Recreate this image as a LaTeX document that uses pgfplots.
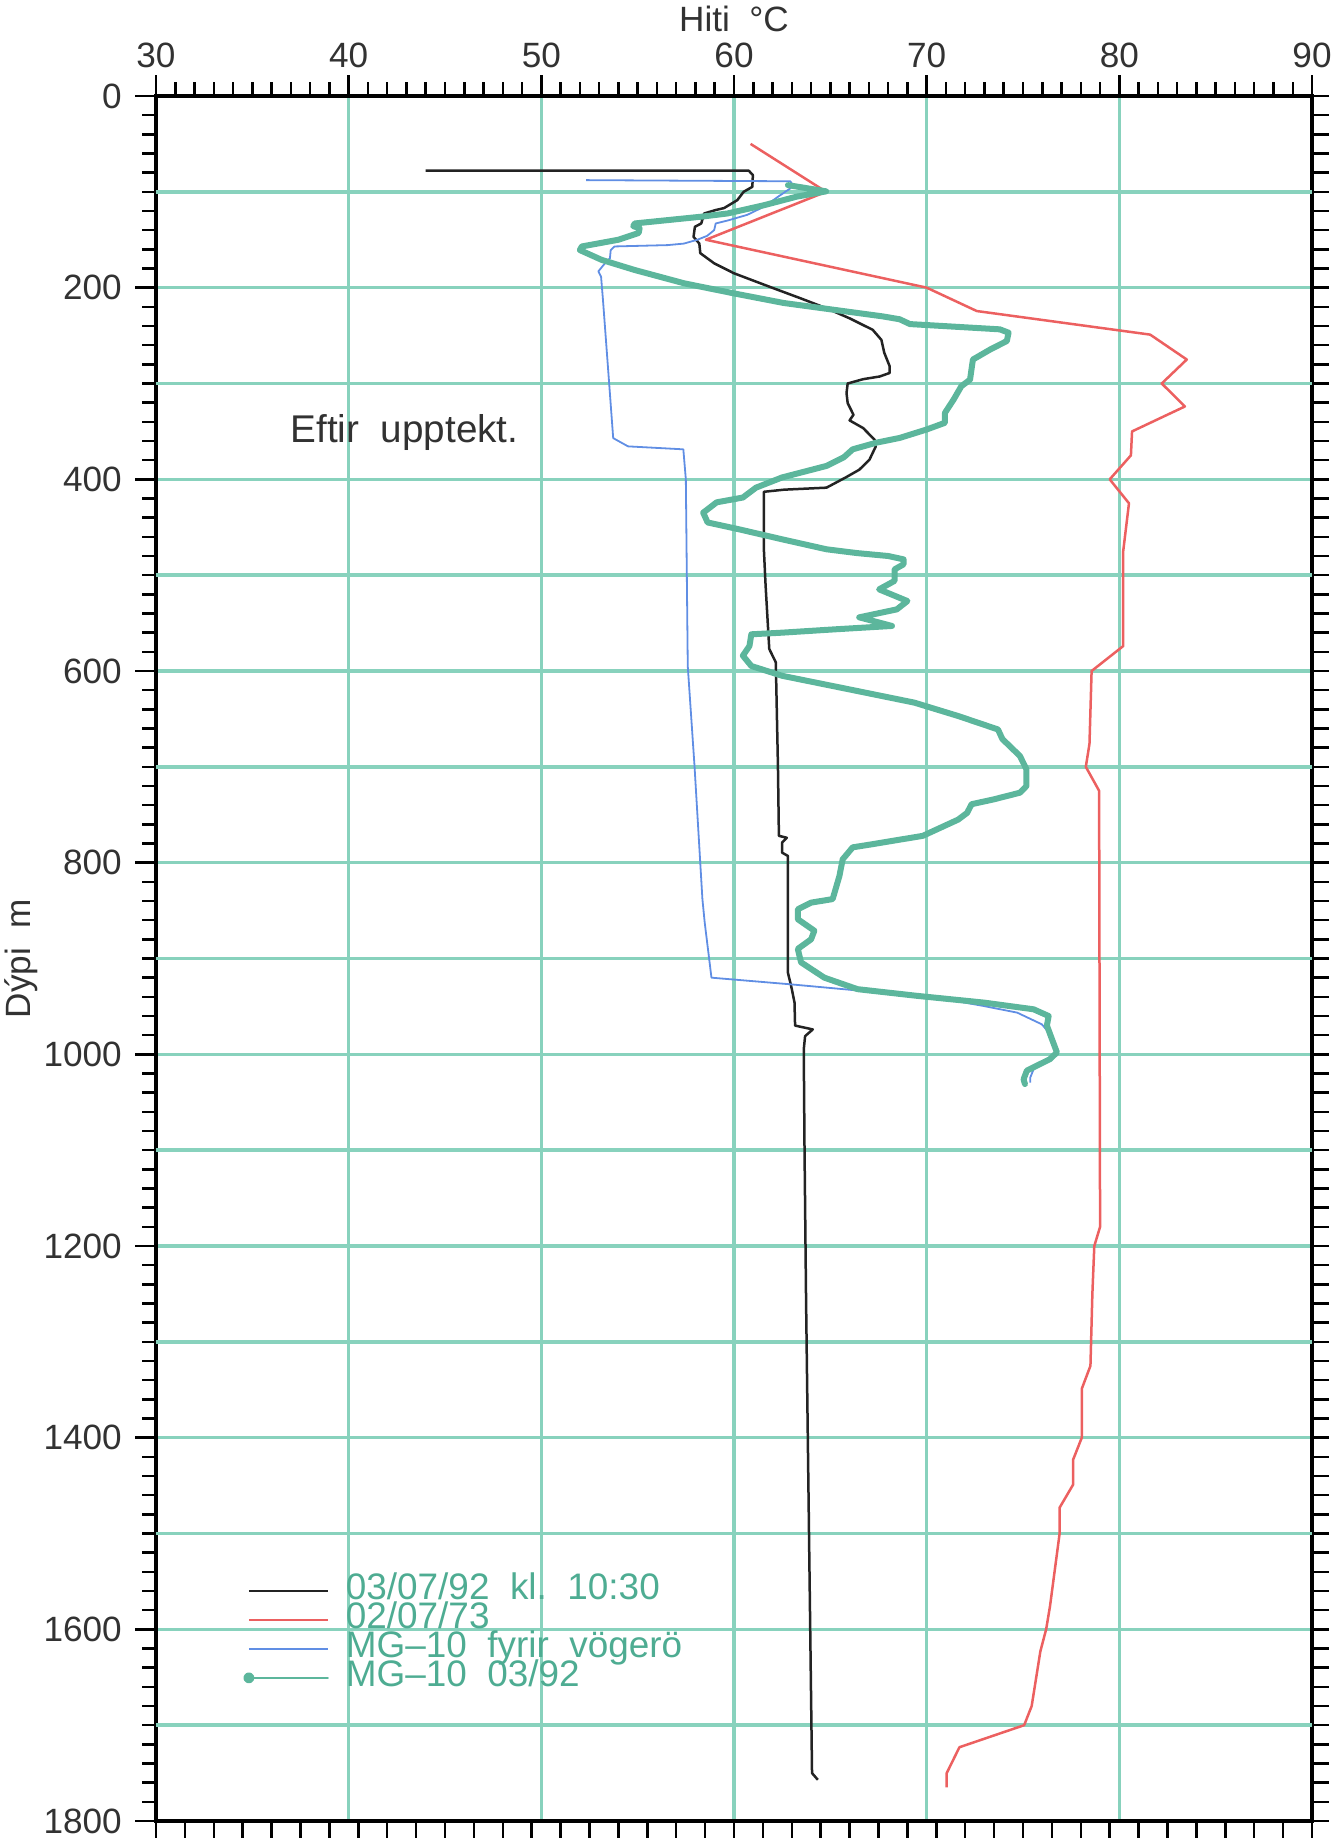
\documentclass[border=0pt]{standalone}
\usepackage{fontspec}
\setmainfont{Liberation Sans}
\usepackage{pgfplots}
\pgfplotsset{compat=1.18}

\definecolor{gridteal}{RGB}{136,210,189}
\definecolor{mgteal}{RGB}{92,182,156}
\definecolor{legteal}{RGB}{78,172,146}
\definecolor{redline}{RGB}{236,96,96}
\definecolor{blueline}{RGB}{96,142,228}
\definecolor{blackline}{RGB}{35,35,35}
\definecolor{labelgray}{RGB}{50,50,50}

\begin{document}
\begin{tikzpicture}
\useasboundingbox (-15.6mm,-1.9mm) rectangle (118.5mm,182.1mm);

% lower and right frame ticks
\begin{axis}[
  at={(0,0)}, anchor=south west,
  scale only axis, width=115.6mm, height=172.5mm,
  xmin=30, xmax=90, ymin=0, ymax=1800, y dir=reverse,
  xtick distance=1.5, ytick distance=20,
  xtick pos=left, ytick pos=right,
  xticklabels={}, yticklabels={},
  tick align=outside, major tick length=1.65mm,
  every tick/.style={black, line width=0.25mm},
  axis line style={line width=0.35mm},
]
\end{axis}

\begin{axis}[
  at={(0,0)}, anchor=south west,
  scale only axis, width=115.6mm, height=172.5mm,
  xmin=30, xmax=90, ymin=0, ymax=1800, y dir=reverse,
  xtick={30,40,...,90}, minor x tick num=9,
  ytick={0,200,...,1800}, minor y tick num=9,
  extra y ticks={100,300,...,1700}, extra y tick labels={},
  extra y tick style={major tick length=1.35mm},
  xtick pos=right, ytick pos=left,
  xticklabel pos=right,
  grid=major, major grid style={gridteal, line width=0.35mm},
  tick align=outside, major tick length=2.05mm, minor tick length=1.35mm,
  every tick/.style={black, line width=0.25mm},
  axis line style={line width=0.35mm},
  /pgf/number format/assume math mode=true,
  /pgf/number format/1000 sep={},
  tick label style={font=\fontsize{10}{12}\selectfont, text=labelgray},
  xticklabel style={inner sep=0pt, yshift=0.7mm},
  yticklabel style={inner sep=0pt, xshift=-1.3mm},
  xlabel={Hiti\ \ °C},
  xlabel style={at={(axis description cs:0.5,1)}, anchor=base, yshift=6.4mm,
    font=\fontsize{10}{12}\selectfont, text=labelgray},
  ylabel={Dýpi\ \ m},
  ylabel style={at={(axis description cs:-0.1168,0.5)}, anchor=center,
    font=\fontsize{10}{12}\selectfont, text=labelgray},
  legend style={at={(axis cs:34.5,1544)}, anchor=north west, draw=none,
    fill=none, inner sep=0pt, font=\fontsize{10.5}{12}\selectfont,
    text=legteal, nodes={inner sep=0pt, text height=2.3mm, text depth=0.6mm},
    row sep=0pt},
  legend cell align=left,
  legend image code/.code={
    \draw[#1] (0mm,0mm) -- (7.9mm,0mm);
    \path (9.4mm,0mm);
  },
]

% 03/07/92 kl. 10:30
\addplot[blackline, line width=0.25mm, line join=round] coordinates {
(44.0,78) (60.77,78) (60.98,82.6) (60.95,94.8) (60.5,100) (60.17,108.7)
(59.48,117) (59.05,119) (58.45,122.6) (58.3,133) (57.97,136.5) (57.9,147)
(58.2,154) (58.25,164) (58.97,174.6) (60,185) (62.06,200.7) (63.44,211)
(64.8,221.5) (66,232) (67.2,244) (67.65,254.5) (67.8,268) (68.08,282)
(68.08,289) (67.56,292.7) (66.7,295.5) (65.9,300) (65.84,310) (65.9,320.5)
(66.2,332.6) (66.0,338.5) (66.7,346.5) (67.3,358.7) (67.35,366) (67.03,379.5)
(66.5,390) (65.8,398) (64.8,408.7) (62.6,410.8) (61.55,413) (61.55,473)
(61.64,511) (61.83,577) (62.17,591) (62.28,699) (62.33,772) (62.74,774)
(62.5,779) (62.5,789.6) (62.8,793) (62.8,915) (62.97,929) (63.14,946)
(63.17,970) (64.09,974) (63.69,981) (63.62,995) (63.66,1099) (63.74,1256)
(64.05,1750) (64.35,1757)
};
\addlegendentry{03/07/92\ \ kl.\ \ 10:30}

% 02/07/73
\addplot[redline, line width=0.25mm, line join=round] coordinates {
(60.86,50) (64.78,100) (58.54,150) (70,200) (72.6,224.4) (81.6,249)
(83.5,275) (82.2,300) (83.4,324) (80.66,350) (80.6,375) (79.5,400)
(80.5,425) (80.2,475) (80.2,574) (78.56,600) (78.45,676) (78.26,700)
(78.95,725) (79.0,1180) (78.7,1200) (78.6,1250) (78.5,1325) (78.05,1349)
(78.05,1400) (77.6,1423) (77.6,1449) (76.9,1473) (76.9,1500) (76.4,1576)
(76.2,1600) (75.9,1623) (75.45,1680) (75.06,1700) (71.7,1723) (71.04,1750)
(71.04,1765)
};
\addlegendentry{02/07/73}

% MG-10 fyrir vogerd
\addplot[blueline, line width=0.18mm, line join=round] coordinates {
(52.32,87.8) (62.92,89) (63.06,93) (62.92,96.5) (62.4,103.5) (61.55,115.6)
(60.69,124) (59.66,130) (59.05,133) (58.97,140) (58.6,146) (58.1,150)
(57.4,154) (56.56,155.6) (53.8,157) (53.6,160.8) (53.56,169.4) (53.3,174.6)
(52.96,183) (53.1,188.5) (53.2,213) (53.73,357) (54.5,365.6) (57.37,368.7)
(57.5,400) (57.6,595) (57.95,699) (58.36,838) (58.48,862.6) (58.83,920)
(62.97,927) (66.76,934) (70.03,939) (72.97,949.6) (74.7,956.5) (75.98,968.7)
(76.33,977) (76.76,998) (76.24,1005) (75.55,1015.6) (75.38,1024) (75.38,1029.6)
};
\addlegendentry{MG--10\ \ fyrir\ \ vögerö}

% MG-10 03/92
\addplot[mgteal, line width=0.6mm, line join=round, line cap=round,
  legend image code/.code={
    \draw[mgteal, line width=0.2mm] (0mm,0mm) -- (7.9mm,0mm);
    \fill[mgteal] (0mm,0mm) circle (0.25mm);
    \path (9.4mm,0mm);
  }] coordinates {
(62.8,93) (64.78,99.5) (63.26,105) (61.55,114) (59.66,122.6) (58.28,126)
(56.56,129.5) (54.85,133) (54.77,135.8) (55.1,138) (55.05,143) (54.0,150)
(52.1,157) (52.0,160.8) (53.13,171) (54.85,181.6) (57.42,195.5) (60,206)
(62.58,216) (65.15,223) (67.73,230) (68.6,233) (69.13,238) (73.8,243.5)
(74.25,247) (74.16,255.7) (73.3,264.5) (72.4,275) (72.25,296) (71.8,302.8)
(71.4,316.7) (70.95,330.6) (70.95,341) (70,348) (68.6,356.8) (67.4,361.7)
(66.16,368.7) (65.7,377) (64.8,386) (62.5,398) (61.14,408.7) (60.46,419)
(59.1,424) (58.4,434.8) (58.63,445) (60.23,452) (62.5,462.6) (64.8,473)
(66.4,477) (68.0,480) (68.8,483.5) (68.8,488.7) (68.33,494) (68.33,506)
(67.53,514.8) (69.0,527) (68.45,535.7) (66.5,544) (68.2,553) (65.25,556.5)
(62.5,560) (60.9,561.7) (60.8,574) (60.46,584) (60.9,594.8) (62.5,605)
(65.94,619) (69.36,633) (71.64,647) (73.7,661) (73.93,671) (74.84,688.7)
(75.18,702.6) (75.18,720) (74.84,727) (73.47,734) (72.33,739) (72.1,748)
(71.64,755) (69.8,772) (67.1,781) (66.16,784) (65.64,796.5) (65.47,814)
(65.12,838) (64.0,841.7) (63.31,848.7) (63.31,859) (64.17,871) (64.0,880)
(63.31,890) (63.48,904) (64.69,920) (66.41,932) (69.52,939) (72.97,946)
(75.55,953) (76.33,960) (76.24,970) (76.76,998) (76.4,1005) (75.2,1017)
(75.03,1026) (75.1,1031)
};
\addlegendentry{MG--10\ \ 03/92}

\node[anchor=west, inner sep=0pt, font=\fontsize{11}{13}\selectfont, text=labelgray]
  at (axis cs:36.95,351) {Eftir\ \ upptekt.};

\end{axis}
\end{tikzpicture}
\end{document}
